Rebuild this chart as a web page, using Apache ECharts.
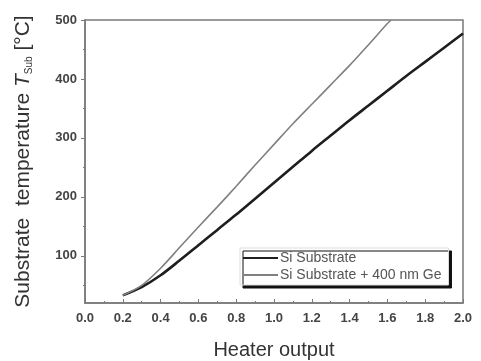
<!DOCTYPE html>
<html><head><meta charset="utf-8">
<script src="https://cdn.jsdelivr.net/npm/echarts@6/dist/echarts.min.js"></script>
<style>html,body{margin:0;padding:0;background:#fff}#c{width:481px;height:361px}</style>
</head><body><div id="c"></div>
<script>
const seriesNames = ['Si Substrate', 'Si Substrate + 400 nm Ge'];
const siX = [0.2,0.3,0.4,0.5,0.6,0.7,0.8,0.9,1.0,1.1,1.2,1.3,1.4,1.5,1.6,1.7,1.8,1.9,2.0];
const siY = [33,47,67,92,118,144,170,197,224,251,278,304,330,355,380,405,429,453,477];
const geX = [0.2,0.3,0.4,0.5,0.6,0.7,0.8,0.9,1.0,1.1,1.2,1.3,1.4,1.5,1.6,1.62];
const geY = [33,50,79,114,149,183,218,254,289,324,357,390,423,458,494,500];
const yTickLabels = [100,200,300,400,500];
const yMinorTicks = [50,150,250,350,450];

const pairs = (xs, ys) => xs.map((x, i) => [x, ys[i]]);
const labelStyle = {color:'#444', fontSize:13, fontWeight:'bold', fontFamily:'Liberation Sans, Arial, sans-serif'};
const axisCol = '#7a7a7a';

const chart = echarts.init(document.getElementById('c'), null, {renderer:'canvas'});
chart.setOption({
  animation:false,
  backgroundColor:'#fff',
  grid:{left:85, right:18, top:20, bottom:58, outerBoundsMode:'none', containLabel:false,
        show:true, borderColor:axisCol, borderWidth:1.5, backgroundColor:'#fff'},
  legend:{
    orient:'vertical', left:240, top:248,
    padding:[3,7,3,2], itemGap:3, itemWidth:35, itemHeight:12,
    backgroundColor:'#fff', borderColor:'#ddd', borderWidth:1,
    shadowColor:'#111', shadowBlur:0, shadowOffsetX:3, shadowOffsetY:3,
    itemStyle:{opacity:0},
    textStyle:{color:'#555', fontSize:14, fontFamily:'Liberation Sans, Arial, sans-serif', padding:[0,0,0,-3]},
    data:seriesNames
  },
  xAxis:{
    type:'value', min:0, max:2, interval:0.2,
    name:'Heater output', nameLocation:'middle', nameGap:37,
    nameTextStyle:{color:'#333', fontSize:20, fontFamily:'Liberation Sans, Arial, sans-serif'},
    axisLine:{show:true, lineStyle:{color:axisCol, width:1.5}},
    axisTick:{show:true, inside:true, length:4, lineStyle:{color:axisCol}},
    minorTick:{show:true, splitNumber:2, length:2, lineStyle:{color:axisCol}},
    axisLabel:Object.assign({margin:9, formatter:v => v.toFixed(1)}, labelStyle),
    splitLine:{show:false}
  },
  yAxis:[{
    type:'value', min:20, max:500,
    name:'{t|Substrate  temperature }{i|T}{s|Sub}{t| [°C]}',
    nameLocation:'middle', nameGap:51,
    nameTextStyle:{color:'#333', fontFamily:'Liberation Sans, Arial, sans-serif', rich:{
      t:{fontSize:21, color:'#333', fontFamily:'Liberation Sans, Arial, sans-serif'},
      i:{fontSize:21, color:'#333', fontStyle:'italic', fontFamily:'Liberation Sans, Arial, sans-serif'},
      s:{fontSize:10, color:'#333', padding:[12,0,0,0], fontFamily:'Liberation Sans, Arial, sans-serif'}
    }},
    axisLine:{show:true, lineStyle:{color:axisCol, width:1.5}},
    axisTick:{show:true, length:4, customValues:yTickLabels, lineStyle:{color:axisCol}},
    axisLabel:Object.assign({margin:8, customValues:yTickLabels}, labelStyle),
    splitLine:{show:false}
  },{
    type:'value', min:20, max:500, position:'left',
    axisLine:{show:false},
    axisTick:{show:true, length:2, customValues:yMinorTicks, lineStyle:{color:axisCol}},
    axisLabel:{show:false, customValues:yMinorTicks},
    splitLine:{show:false}
  }],
  series:[
    {name:seriesNames[0], type:'line', data:pairs(siX, siY), symbol:'none', smooth:0.3,
     lineStyle:{color:'#1e1e1e', width:2.6}, itemStyle:{color:'#1e1e1e'}},
    {name:seriesNames[1], type:'line', data:pairs(geX, geY), symbol:'none', smooth:0.3,
     lineStyle:{color:'#808080', width:1.6}, itemStyle:{color:'#808080'}}
  ]
});
</script></body></html>
